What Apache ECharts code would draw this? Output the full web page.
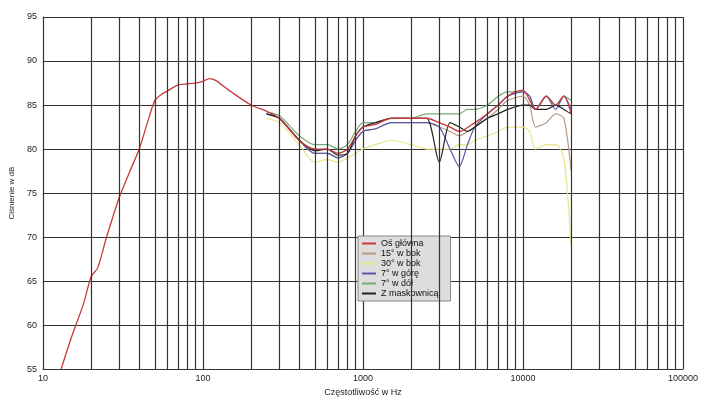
<!DOCTYPE html>
<html><head><meta charset="utf-8">
<script src="https://cdn.jsdelivr.net/npm/echarts@6/dist/echarts.min.js"></script>
<style>body{margin:0;background:#fff}#c{width:705px;height:402px}</style>
</head><body><div id="c"></div>
<script>
var freqMain = [13,15,18,20,22,25,30,35,40,45,50,55,60,70,80,90,100,110,120,150,200,250,300,400,500,600,700,800,900,1000,1200,1500,2000,2500,3000,3500,4000,5000,6000,7000,8000,9000,10000,12000,14000,16000,18000,20000];
var dbMain   = [55,58.5,62.5,65.5,66.5,70,74.5,77.5,80,83,85.5,86.2,86.6,87.3,87.4,87.5,87.7,88,87.8,86.5,85,84.3,83.5,81,80,80,79.5,80,81.5,82.5,82.8,83.5,83.5,83.5,83,82.5,82,83,84,85,86,86.5,86.7,84.5,86,85,86,84];

var freqOff = [250,300,400,500,600,700,800,900,1000,1200,1500,2000,2500,3000,3500,4000,4500,5000,6000,7000,8000,10000,11000,12000,14000,16000,18000,20000];
var db15   = [84,83.5,81,79.5,79.5,79,79.5,81,82,82.3,83,83,83,82.5,82,81.5,82,82.5,83.5,84.5,85.5,86,85,82.5,83,84,83.5,77.5];
var db30   = [83.5,83,80.5,78.5,78.8,78.5,79,79.5,80,80.5,81,80.5,80,80,80,80.5,80.5,81,81.5,82,82.5,82.5,82,80,80.5,80.5,79,69];
var dbUp   = [84,83.5,81,79.5,79.5,79,79.5,81,82,82.3,83,83,83,82.5,80,78,80.5,82.5,84,85,86,86.5,86,84.5,86,84.5,86,84.5];
var dbDown = [84.2,83.8,81.5,80.5,80.5,80,80.5,82,83,83,83.5,83.5,84,84,84,84,84.5,84.5,85,86,86.5,86.5,86,84.5,86,85,86,85.5];
var dbGrill= [84,83.5,81,79.8,80,79.3,79.5,81.5,82.5,83,83.5,83.5,83.5,78.5,83,82.5,82,82.5,83.5,84,84.5,85,85,84.5,84.5,85,84.5,84];

var minorX = [20,30,40,50,60,70,80,90,200,300,400,500,600,700,800,900,2000,3000,4000,5000,6000,7000,8000,9000,20000,30000,40000,50000,60000,70000,80000,90000];

function pairs(f, v) { return f.map(function(x, i){ return [x, v[i]]; }); }
function line(name, color, f, v, w) {
  return {name:name, type:'line', data:pairs(f, v), smooth:0.25, showSymbol:false,
          lineStyle:{color:color, width:w||1.2}, itemStyle:{color:color}, z:3};
}

var chart = echarts.init(document.getElementById('c'));
chart.setOption({
  animation:false,
  grid:{left:38, right:22, top:17, bottom:26},
  xAxis:{type:'log', min:10, max:100000, logBase:10,
    name:'Częstotliwość w Hz', nameLocation:'middle', nameGap:13,
    nameTextStyle:{fontSize:9, fontFamily:'Liberation Sans', color:'#222'},
    axisLine:{lineStyle:{color:'#333'}}, axisTick:{show:false},
    axisLabel:{fontSize:9, color:'#222', fontFamily:'Liberation Sans', margin:5,
      formatter:function(v){ return String(Math.round(v)); }},
    splitLine:{show:true, lineStyle:{color:'#333', width:1.2}}},
  yAxis:{type:'value', min:55, max:95, interval:5,
    name:'Ciśnienie w dB', nameLocation:'middle', nameGap:24,
    nameTextStyle:{fontSize:8, fontFamily:'Liberation Sans', color:'#222'},
    axisLine:{show:true, lineStyle:{color:'#333'}}, axisTick:{show:false},
    axisLabel:{fontSize:9, color:'#222', fontFamily:'Liberation Sans', margin:6},
    splitLine:{lineStyle:{color:'#333', width:1.2}}},
  legend:{orient:'vertical', left:358, top:236, itemGap:1, itemWidth:14, itemHeight:2,
    backgroundColor:'#ddd', borderColor:'#888', borderWidth:1, padding:[3,12,3,4],
    icon:'rect', textStyle:{fontSize:9, fontFamily:'Liberation Sans', color:'#111'},
    data:['Oś główna','15° w bok','30° w bok','7° w górę','7° w dół','Z maskownicą']},
  series:[
    {type:'line', data:[], silent:true,
     markLine:{symbol:'none', silent:true, label:{show:false},
       lineStyle:{color:'#333', width:1.2, type:'solid'},
       data:minorX.map(function(x){ return {xAxis:x}; })}},
    line('30° w bok', '#e8e48a', freqOff, db30),
    line('15° w bok', '#b89a82', freqOff, db15),
    line('7° w dół', '#78a878', freqOff, dbDown),
    line('7° w górę', '#5a5aa8', freqOff, dbUp),
    line('Z maskownicą', '#222222', freqOff, dbGrill),
    line('Oś główna', '#c83a3a', freqMain, dbMain, 1.3)
  ]
});
</script></body></html>
